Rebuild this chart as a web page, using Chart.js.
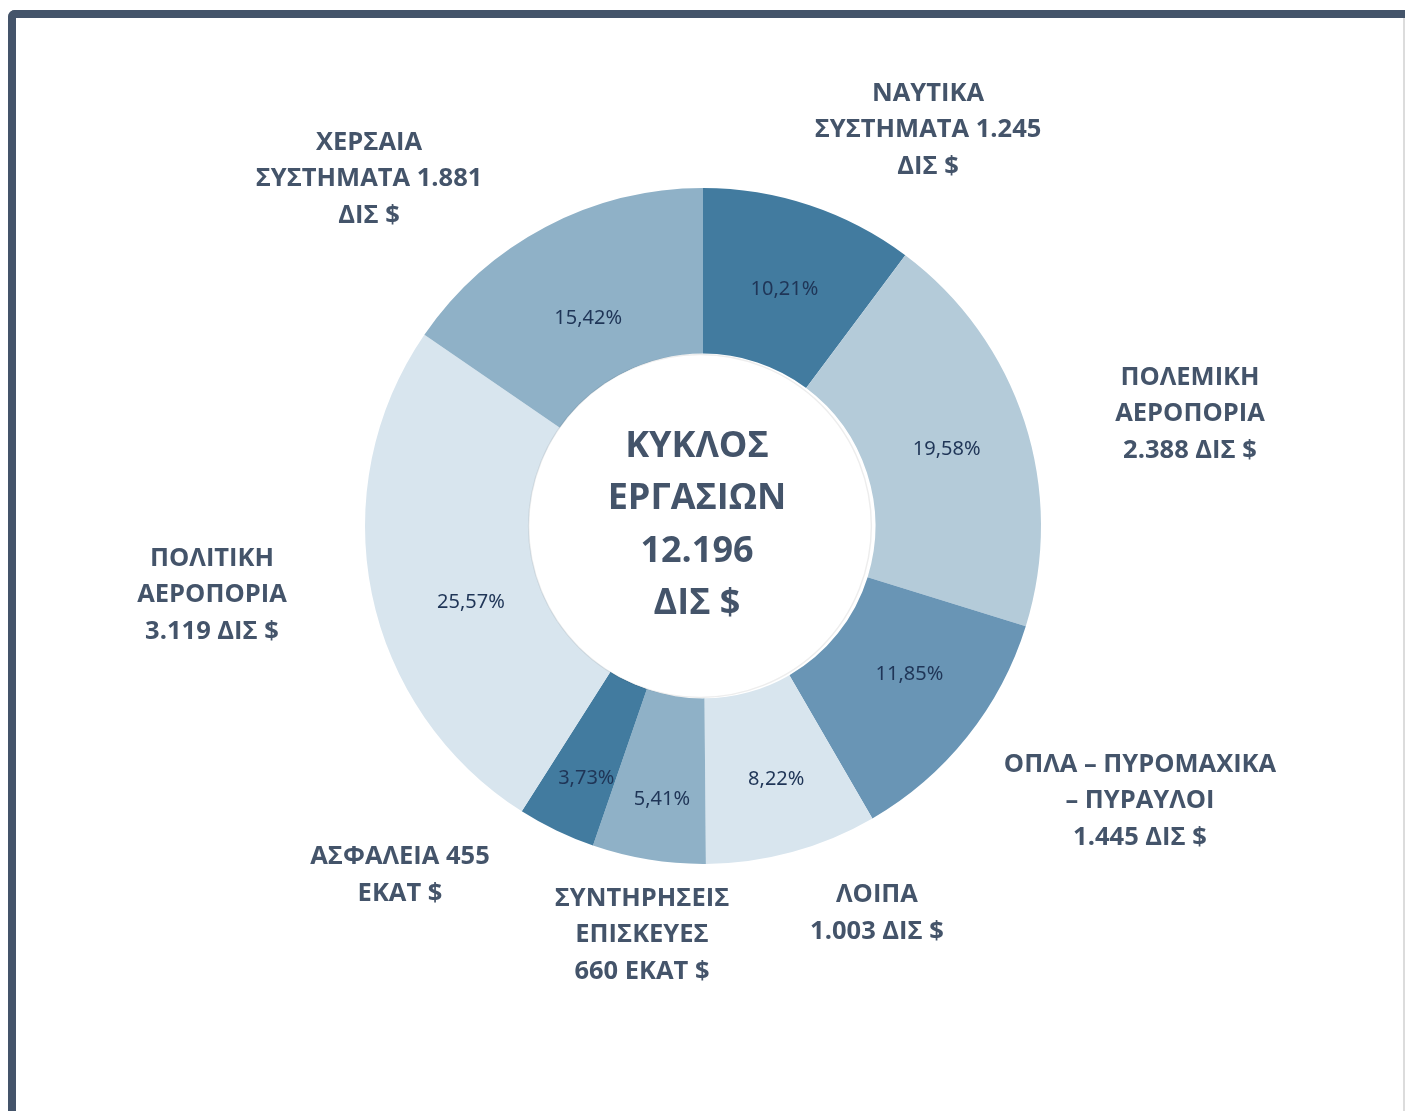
<!DOCTYPE html>
<html lang="el">
<head>
<meta charset="utf-8">
<title>Κύκλος εργασιών</title>
<script src="https://cdn.jsdelivr.net/npm/chart.js@4/dist/chart.umd.min.js"></script>
<style>
  html, body { margin: 0; padding: 0; background: #fff; overflow: hidden; }
  body { width: 1405px; height: 1111px; position: relative; }
  .frame {
    position: absolute; left: 8px; top: 10px; width: 1420px; height: 1200px;
    border-top: 8px solid #44546a; border-left: 8px solid #44546a;
    border-top-left-radius: 7px; box-sizing: border-box;
  }
  .edge { position: absolute; left: 1403px; top: 18px; width: 2px; height: 1093px; background: #dcdcdc; }
  #chart { position: absolute; left: 0; top: 0; }
</style>
</head>
<body>
<div class="frame"></div>
<div class="edge"></div>
<canvas id="chart" width="1405" height="1111"></canvas>

<script>
/* ── DATA ────────────────────────────────────────────── */
const categories = [
  'ΝΑΥΤΙΚΑ ΣΥΣΤΗΜΑΤΑ', 'ΠΟΛΕΜΙΚΗ ΑΕΡΟΠΟΡΙΑ', 'ΟΠΛΑ – ΠΥΡΟΜΑΧΙΚΑ – ΠΥΡΑΥΛΟΙ', 'ΛΟΙΠΑ',
  'ΣΥΝΤΗΡΗΣΕΙΣ ΕΠΙΣΚΕΥΕΣ', 'ΑΣΦΑΛΕΙΑ', 'ΠΟΛΙΤΙΚΗ ΑΕΡΟΠΟΡΙΑ', 'ΧΕΡΣΑΙΑ ΣΥΣΤΗΜΑΤΑ'
];
const shares = [10.21, 19.58, 11.85, 8.22, 5.41, 3.73, 25.57, 15.42];
const shareLabels = ['10,21%', '19,58%', '11,85%', '8,22%', '5,41%', '3,73%', '25,57%', '15,42%'];
const labelLines = [
  ['ΝΑΥΤΙΚΑ', 'ΣΥΣΤΗΜΑΤΑ 1.245', 'ΔΙΣ $'],
  ['ΠΟΛΕΜΙΚΗ', 'ΑΕΡΟΠΟΡΙΑ', '2.388 ΔΙΣ $'],
  ['ΟΠΛΑ – ΠΥΡΟΜΑΧΙΚΑ', '– ΠΥΡΑΥΛΟΙ', '1.445 ΔΙΣ $'],
  ['ΛΟΙΠΑ', '1.003 ΔΙΣ $'],
  ['ΣΥΝΤΗΡΗΣΕΙΣ', 'ΕΠΙΣΚΕΥΕΣ', '660 ΕΚΑΤ $'],
  ['ΑΣΦΑΛΕΙΑ 455', 'ΕΚΑΤ $'],
  ['ΠΟΛΙΤΙΚΗ', 'ΑΕΡΟΠΟΡΙΑ', '3.119 ΔΙΣ $'],
  ['ΧΕΡΣΑΙΑ', 'ΣΥΣΤΗΜΑΤΑ 1.881', 'ΔΙΣ $']
];
const centerLines = ['ΚΥΚΛΟΣ', 'ΕΡΓΑΣΙΩΝ', '12.196', 'ΔΙΣ $'];

/* ── LAYOUT ──────────────────────────────────────────── */
const palette = ['#427b9f', '#b4cbd9', '#6995b5', '#d8e5ee', '#8fb1c7', '#427b9f', '#d8e5ee', '#8fb1c7'];
// outer label block centres, relative to the doughnut centre
const labelAnchors = [[225, -396], [487, -112], [437, 275], [174, 387], [-61, 409], [-303, 349], [-491, 69], [-334, -347]];
// small nudges for the percentage texts
const pctNudge = [[1, 5], [1, 2], [7, -11], [6, 7], [0, 21], [-6, 22], [18, 25], [4, 18]];

const TEXT = '#44546a';

const labelsPlugin = {
  id: 'labelsPlugin',
  afterDatasetsDraw(chart) {
    const ctx  = chart.ctx;
    const meta = chart.getDatasetMeta(0);
    const cx = (chart.chartArea.left + chart.chartArea.right) / 2;
    const cy = (chart.chartArea.top + chart.chartArea.bottom) / 2;
    const inner = meta.data[0].innerRadius;

    ctx.save();
    // soft edge on the hole
    ctx.beginPath();
    ctx.arc(cx - 3, cy, inner - 1, 0, Math.PI * 2);
    ctx.fillStyle = '#fff';
    ctx.fill();
    ctx.strokeStyle = 'rgba(0,0,0,.07)';
    ctx.lineWidth = 1.5;
    ctx.stroke();

    ctx.textAlign = 'center';
    ctx.textBaseline = 'middle';

    // percentages
    ctx.fillStyle = '#1f3557';
    ctx.font = "20px 'Noto Sans', sans-serif";
    meta.data.forEach((arc, i) => {
      const p = arc.tooltipPosition();
      ctx.fillText(shareLabels[i], p.x + pctNudge[i][0], p.y + pctNudge[i][1]);
    });

    // category labels
    ctx.fillStyle = TEXT;
    ctx.font = "bold 25.5px 'Open Sans', sans-serif";
    labelLines.forEach((lines, i) => {
      const lh = 36.5;
      const x = cx + labelAnchors[i][0];
      const y0 = cy + labelAnchors[i][1] - (lines.length - 1) * lh / 2;
      lines.forEach((t, j) => ctx.fillText(t, x, y0 + j * lh));
    });

    // centre text
    ctx.font = "bold 36px 'Open Sans', sans-serif";
    const clh = 52.5;
    const cy0 = cy - 1 - (centerLines.length - 1) * clh / 2;
    centerLines.forEach((t, j) => ctx.fillText(t, cx - 6, cy0 + j * clh));
    ctx.restore();
  }
};

new Chart(document.getElementById('chart'), {
  type: 'doughnut',
  data: {
    labels: categories,
    datasets: [{
      data: shares,
      backgroundColor: palette,
      borderWidth: 0,
    }]
  },
  options: {
    responsive: false,
    animation: false,
    cutout: '51%',
    layout: { padding: { left: 365, right: 364, top: 188, bottom: 247 } },
    plugins: { legend: { display: false }, tooltip: { enabled: false } }
  },
  plugins: [labelsPlugin]
});
</script>
</body>
</html>
